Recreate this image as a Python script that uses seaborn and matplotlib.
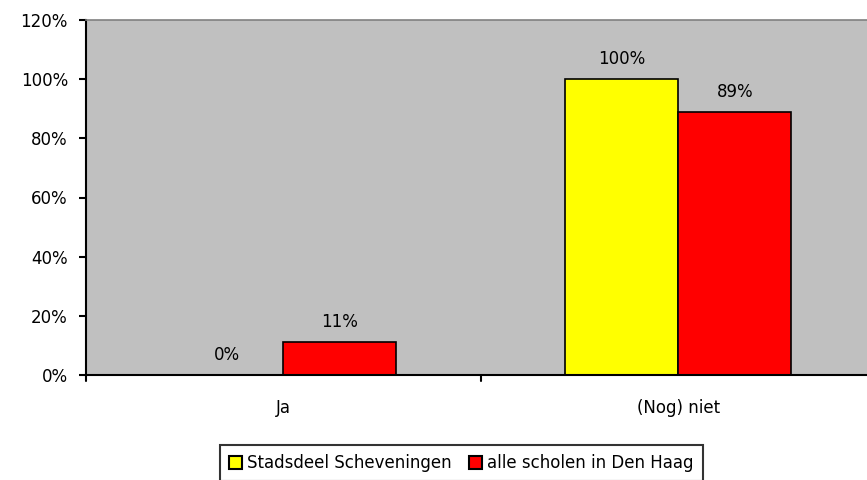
import numpy as np
import pandas as pd
import seaborn as sns
import matplotlib.pyplot as plt
from matplotlib.patches import Patch

# data
categories = ['Ja', '(Nog) niet']
series = ['Stadsdeel Scheveningen', 'alle scholen in Den Haag']
scheveningen = [0, 100]
den_haag = [11, 89]

data = pd.DataFrame({
    'categorie': categories * 2,
    'reeks': [series[0]] * 2 + [series[1]] * 2,
    'waarde': scheveningen + den_haag,
})

colors = {series[0]: '#FFFF00', series[1]: '#FF0000'}

sns.set_style('white')
plt.rcParams['font.family'] = ['DejaVu Sans']
plt.rcParams['text.color'] = 'black'
plt.rcParams['xtick.color'] = 'black'
plt.rcParams['ytick.color'] = 'black'

fig = plt.figure(figsize=(8.67, 4.8), dpi=100)
ax = fig.add_axes([86 / 867, 1 - 375 / 480, 1 - 86 / 867, 355 / 480])
ax.set_facecolor('#C0C0C0')

sns.barplot(data=data, x='categorie', y='waarde', hue='reeks', order=categories,
            hue_order=series, palette=colors, saturation=1, width=0.572,
            edgecolor='black', linewidth=1.2, ax=ax, legend=False)

ax.set_xlim(-0.5, 1.478)
ax.set_ylim(0, 120)
ax.set_yticks(np.arange(0, 121, 20))
ax.set_yticklabels([f'{v}%' for v in range(0, 121, 20)], fontsize=12)
ax.set_xticks([0, 1])
ax.set_xticklabels(categories, fontsize=12)
ax.tick_params(axis='x', length=0, pad=17)
ax.tick_params(axis='y', length=5, width=1.5, direction='out', left=True, pad=8)
# category separators on x axis
for xs in [-0.5, 0.5]:
    ax.plot([xs, xs], [0, -2], color='black', lw=1.5, clip_on=False)
ax.set_xlabel('')
ax.set_ylabel('')

for side in ['left', 'bottom']:
    ax.spines[side].set_color('black')
    ax.spines[side].set_linewidth(1.5)
ax.spines['top'].set_color('#808080')
ax.spines['top'].set_linewidth(1.2)
ax.spines['right'].set_visible(False)

for container in ax.containers:
    ax.bar_label(container, labels=[f'{v:.0f}%' for v in container.datavalues],
                 padding=8, fontsize=12)

handles = [Patch(facecolor=colors[s], edgecolor='black', linewidth=1.5) for s in series]
leg = fig.legend(handles, series, loc='upper center', bbox_to_anchor=(0.532, 1 - 445 / 480),
                 ncol=2, frameon=True, fancybox=False, edgecolor='black', fontsize=12,
                 handlelength=0.8, handleheight=0.8, handletextpad=0.3, columnspacing=1.0,
                 borderpad=0.55, borderaxespad=0)
leg.get_frame().set_linewidth(1.5)

fig.savefig('out.png', dpi=100)
